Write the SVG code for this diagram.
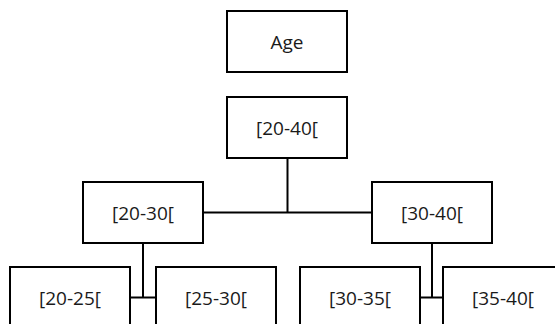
<svg xmlns="http://www.w3.org/2000/svg" width="555" height="324" viewBox="0 0 555 324">
<style>
.box{fill:#fff;stroke:#000;stroke-width:2}
.lbl{font-family:"Open Sans","Liberation Sans",sans-serif;font-size:19px;fill:#1a1a1a;text-anchor:middle}
.con{stroke:#000;stroke-width:2;fill:none}
</style>
<rect width="555" height="324" fill="#fff"/>
<g id="connectors">
<line class="con" x1="287.5" y1="158" x2="287.5" y2="212.5"/>
<line class="con" x1="203" y1="212.5" x2="372" y2="212.5"/>
<line class="con" x1="143" y1="243" x2="143" y2="297.5"/>
<line class="con" x1="130" y1="297.5" x2="156" y2="297.5"/>
<line class="con" x1="432" y1="243" x2="432" y2="297.5"/>
<line class="con" x1="420" y1="297.5" x2="443" y2="297.5"/>
</g>
<g id="age"><rect class="box" x="227" y="11" width="120" height="61"/><text class="lbl" x="287" y="48.5">Age</text></g>
<g id="n20-40"><rect class="box" x="227" y="97" width="120" height="61"/><text class="lbl" x="287" y="134.5">[20-40[</text></g>
<g id="n20-30"><rect class="box" x="83" y="182" width="120" height="61"/><text class="lbl" x="143" y="219.5">[20-30[</text></g>
<g id="n30-40"><rect class="box" x="372" y="182" width="120" height="61"/><text class="lbl" x="432" y="219.5">[30-40[</text></g>
<g id="n20-25"><rect class="box" x="10" y="267" width="120" height="61"/><text class="lbl" x="70" y="304.5">[20-25[</text></g>
<g id="n25-30"><rect class="box" x="156" y="267" width="120" height="61"/><text class="lbl" x="216" y="304.5">[25-30[</text></g>
<g id="n30-35"><rect class="box" x="300" y="267" width="120" height="61"/><text class="lbl" x="360" y="304.5">[30-35[</text></g>
<g id="n35-40"><rect class="box" x="443" y="267" width="120" height="61"/><text class="lbl" x="503" y="304.5">[35-40[</text></g>
</svg>
